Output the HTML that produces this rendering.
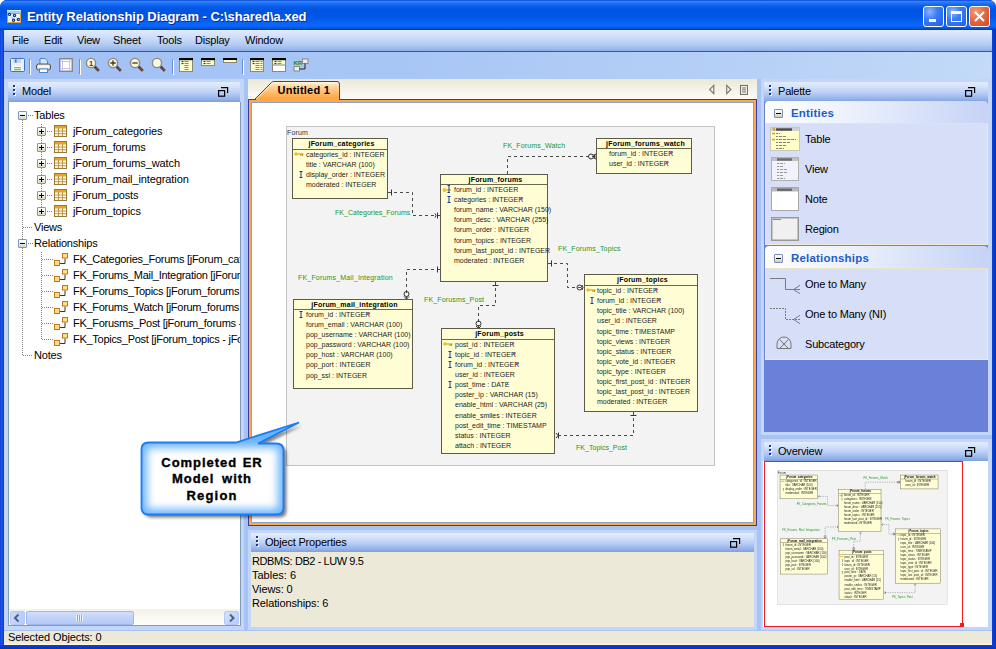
<!DOCTYPE html>
<html><head><meta charset="utf-8">
<style>
*{box-sizing:border-box}
html,body{margin:0;padding:0}
body{width:996px;height:649px;overflow:hidden;position:relative;background:#fff;font-family:"Liberation Sans",sans-serif;font-size:11px;color:#000}
.a{position:absolute}
.t{position:absolute;white-space:nowrap;line-height:13px;letter-spacing:-0.2px}
.hdr{position:absolute;background:linear-gradient(#e3edfd 0,#d3e1fa 25%,#b8cdf4 55%,#93b2ea 85%,#7e9fe0 100%)}
.grip{position:absolute;width:3px;height:11px}
.grip i{position:absolute;left:0;width:2px;height:2px;background:#1c3a8a;box-shadow:1px 1px 0 #fff}
.rst{position:absolute;width:11px;height:10px}
.tb{position:absolute;background:#fffdd3;border:1px solid #5c5b4a}
.tb .h{position:absolute;left:0;right:0;top:0;border-bottom:1px solid #6a6950;font-weight:bold;font-size:7px;text-align:center;white-space:nowrap;color:#000;letter-spacing:0.2px;padding-left:3px}
.tb .r{position:absolute;white-space:nowrap;font-size:7px;line-height:9px;color:#1e1e1e}
.lbl{position:absolute;white-space:nowrap;font-size:7px;line-height:9px;letter-spacing:0.15px}
</style></head><body>

<div class="a" style="left:0;top:0;width:996px;height:649px;background:linear-gradient(90deg,#0a2fc8 0,#1f5cf0 1px,#0b45dc 3px,#0a3fd6 4px);border-radius:7px 7px 0 0"></div>
<div class="a" style="left:992px;top:8px;width:4px;height:641px;background:linear-gradient(90deg,#0a3fd6,#0b3ccf 2px,#0a2ea8 4px)"></div>
<div class="a" style="left:0;top:645px;width:996px;height:4px;background:linear-gradient(#0a3fd6,#0a32b8)"></div>
<div class="a" style="left:0;top:0;width:996px;height:30px;border-radius:7px 7px 0 0;background:linear-gradient(#0840d0 0,#2f84fc 1.5px,#2076f6 3px,#0a5eea 6px,#0054e2 10px,#0056e6 17px,#0862f6 22px,#0a68fd 26px,#0458e8 28px,#0036b0 30px)"></div>
<svg class="a" style="left:7px;top:10px" width="14" height="13" viewBox="0 0 14 13">
<rect x="0" y="0" width="14" height="3" fill="#a8ccec"/><rect x="0" y="0" width="14" height="1" fill="#d8ecfa"/>
<rect x="0.5" y="3.5" width="13" height="9" fill="#eaf4fe" stroke="#d8a040"/>
<g stroke="#4a7ab0" stroke-width="0.9" stroke-dasharray="0.9 0.9"><line x1="3.5" y1="5.5" x2="6" y2="9"/><line x1="8.5" y1="6.5" x2="10.5" y2="8.5"/></g>
<g fill="#fff" stroke="#0a3a80" stroke-width="1.2"><circle cx="2.5" cy="4.4" r="1.1"/><circle cx="7.5" cy="5.5" r="1.1"/><circle cx="6.6" cy="10.2" r="1.1"/><circle cx="11.3" cy="9.5" r="1.1"/></g>
</svg>
<div class="t" style="left:27px;top:9px;font-size:13px;font-weight:bold;color:#fff;line-height:16px;letter-spacing:-0.05px;text-shadow:1px 1px 0 #0b2a96">Entity Relationship Diagram - C:\shared\a.xed</div>
<div class="a" style="left:923px;top:6px;width:21px;height:21px;border:1px solid #fff;border-radius:3px;background:radial-gradient(circle at 30% 25%,#8db4ff 0,#3b7cf6 40%,#1f5ee8 100%)"></div>
<div class="a" style="left:946px;top:6px;width:21px;height:21px;border:1px solid #fff;border-radius:3px;background:radial-gradient(circle at 30% 25%,#8db4ff 0,#3b7cf6 40%,#1f5ee8 100%)"></div>
<div class="a" style="left:969px;top:6px;width:21px;height:21px;border:1px solid #fff;border-radius:3px;background:radial-gradient(circle at 30% 25%,#f39a7a 0,#e66a45 45%,#d2461e 100%)"></div>
<div class="a" style="left:929px;top:19px;width:7px;height:3px;background:#fff"></div>
<div class="a" style="left:951px;top:11px;width:11px;height:11px;border:1px solid #fff;border-top:3px solid #fff"></div>
<svg class="a" style="left:969px;top:6px" width="21" height="21"><g stroke="#fff" stroke-width="2"><line x1="6" y1="6" x2="15" y2="15"/><line x1="15" y1="6" x2="6" y2="15"/></g></svg>
<div class="a" style="left:4px;top:30px;width:988px;height:615px;background:#a6c3f4"></div>
<div class="a" style="left:4px;top:30px;width:988px;height:21px;background:linear-gradient(#e0ebfd 0,#d0e0fb 30%,#b3cbf3 70%,#8eb0e8 100%)"></div>
<div class="a" style="left:4px;top:51px;width:988px;height:1px;background:#3d51ad"></div>
<div class="t" style="left:12px;top:34px">File</div>
<div class="t" style="left:44px;top:34px">Edit</div>
<div class="t" style="left:77px;top:34px">View</div>
<div class="t" style="left:113px;top:34px">Sheet</div>
<div class="t" style="left:157px;top:34px">Tools</div>
<div class="t" style="left:195px;top:34px">Display</div>
<div class="t" style="left:245px;top:34px">Window</div>
<div class="a" style="left:4px;top:52px;width:988px;height:27px;background:linear-gradient(90deg,#a2c0f4 0,#a8c6f5 40%,#b6d0f6 75%,#c3daf8 100%)"></div>
<svg class="a" style="left:10px;top:58px" width="15" height="14" viewBox="0 0 15 14">
<rect x="0.5" y="0.5" width="14" height="13" rx="1" fill="#e9f0fa" stroke="#3f6fc2"/>
<rect x="3" y="1" width="8" height="4" fill="#c8d4e8"/><rect x="5" y="1.5" width="1.5" height="3" fill="#3f6fc2"/>
<rect x="3" y="8" width="9" height="5" fill="#fff"/><rect x="4" y="9" width="7" height="1.3" fill="#7cc040"/><rect x="4" y="11" width="7" height="1.3" fill="#7cc040"/>
</svg>
<div class="a" style="left:29px;top:59px;width:1px;height:15px;background:#6a8fd6"></div><div class="a" style="left:30px;top:60px;width:1px;height:15px;background:#fff"></div>
<svg class="a" style="left:36px;top:58px" width="15" height="15" viewBox="0 0 15 15">
<path d="M4 0.5h5l2.5 2.5v4h-7.5z" fill="#d6e6fa" stroke="#4a86d0"/>
<rect x="0.5" y="6" width="14" height="6" rx="2" fill="#d8d8d8" stroke="#555"/>
<rect x="2" y="7.5" width="11" height="2" fill="#fff"/>
<rect x="3.5" y="11" width="8" height="3.5" fill="#fff" stroke="#4a86d0"/>
</svg>
<svg class="a" style="left:59px;top:58px" width="14" height="14" viewBox="0 0 14 14">
<rect x="0.75" y="0.75" width="12.5" height="12.5" fill="#fff" stroke="#888" stroke-width="1.5"/>
<g stroke="#c8c4f0" stroke-width="1"><line x1="3.5" y1="1" x2="3.5" y2="13"/><line x1="10.5" y1="1" x2="10.5" y2="13"/><line x1="1" y1="3.5" x2="13" y2="3.5"/><line x1="1" y1="10.5" x2="13" y2="10.5"/></g>
</svg>
<div class="a" style="left:79px;top:59px;width:1px;height:15px;background:#6a8fd6"></div><div class="a" style="left:80px;top:60px;width:1px;height:15px;background:#fff"></div>
<svg class="a" style="left:85px;top:57px" width="16" height="16" viewBox="0 0 16 16">
<line x1="9.5" y1="9.5" x2="13.8" y2="13.8" stroke="#2a2a40" stroke-width="2.6"/>
<line x1="9.5" y1="9.5" x2="13.8" y2="13.8" stroke="#b85a30" stroke-width="1.6" stroke-dasharray="1.1 0.6"/>
<circle cx="6" cy="6" r="4.6" fill="#faf6e2" stroke="#8c8a78" stroke-width="1.4"/>
<text x="6" y="8.6" font-size="7.5" font-family="Liberation Sans" font-weight="bold" text-anchor="middle" fill="#3c3a20">1</text>
</svg>
<svg class="a" style="left:107px;top:57px" width="16" height="16" viewBox="0 0 16 16">
<line x1="9.5" y1="9.5" x2="13.8" y2="13.8" stroke="#2a2a40" stroke-width="2.6"/>
<line x1="9.5" y1="9.5" x2="13.8" y2="13.8" stroke="#b85a30" stroke-width="1.6" stroke-dasharray="1.1 0.6"/>
<circle cx="6" cy="6" r="4.6" fill="#faf6e2" stroke="#8c8a78" stroke-width="1.4"/>
<path d="M3.3 6h5.4M6 3.3v5.4" stroke="#3c3a20" stroke-width="1.3"/>
</svg>
<svg class="a" style="left:129px;top:57px" width="16" height="16" viewBox="0 0 16 16">
<line x1="9.5" y1="9.5" x2="13.8" y2="13.8" stroke="#2a2a40" stroke-width="2.6"/>
<line x1="9.5" y1="9.5" x2="13.8" y2="13.8" stroke="#b85a30" stroke-width="1.6" stroke-dasharray="1.1 0.6"/>
<circle cx="6" cy="6" r="4.6" fill="#faf6e2" stroke="#8c8a78" stroke-width="1.4"/>
<path d="M3.3 6h5.4" stroke="#3c3a20" stroke-width="1.3"/>
</svg>
<svg class="a" style="left:151px;top:57px" width="16" height="16" viewBox="0 0 16 16">
<line x1="9.5" y1="9.5" x2="13.8" y2="13.8" stroke="#2a2a40" stroke-width="2.6"/>
<line x1="9.5" y1="9.5" x2="13.8" y2="13.8" stroke="#b85a30" stroke-width="1.6" stroke-dasharray="1.1 0.6"/>
<circle cx="6" cy="6" r="4.6" fill="#faf6e2" stroke="#8c8a78" stroke-width="1.4"/>

</svg>
<div class="a" style="left:172px;top:59px;width:1px;height:15px;background:#6a8fd6"></div><div class="a" style="left:173px;top:60px;width:1px;height:15px;background:#fff"></div>
<svg class="a" style="left:179px;top:58px" width="14" height="14" viewBox="0 0 14 14"><rect x="0.5" y="0.5" width="13" height="13" fill="#fffdd0" stroke="#8a8878"/><rect x="0" y="0" width="14" height="2.2" fill="#000"/><rect x="2.5" y="3.0" width="2" height="1.1" fill="#1a3a8a"/><rect x="5.5" y="3.0" width="4" height="1" fill="#8a8a80"/><rect x="2.5" y="5.0" width="2" height="1.1" fill="#1a3a8a"/><rect x="5.5" y="5.0" width="4" height="1" fill="#8a8a80"/><rect x="5.5" y="7.0" width="4" height="1" fill="#8a8a80"/><rect x="5.5" y="9.0" width="4" height="1" fill="#8a8a80"/><rect x="5.5" y="11.0" width="4" height="1" fill="#8a8a80"/></svg>
<svg class="a" style="left:201px;top:58px" width="14" height="8" viewBox="0 0 14 8"><rect x="0.5" y="0.5" width="13" height="7" fill="#fffdd0" stroke="#8a8878"/><rect x="0" y="0" width="14" height="2.2" fill="#000"/><rect x="2.5" y="3.0" width="2" height="1.1" fill="#1a3a8a"/><rect x="5.5" y="3.0" width="4" height="1" fill="#8a8a80"/><rect x="2.5" y="5.0" width="2" height="1.1" fill="#1a3a8a"/><rect x="5.5" y="5.0" width="4" height="1" fill="#8a8a80"/></svg>
<svg class="a" style="left:223px;top:58px" width="14" height="5"><rect x="0.5" y="0.5" width="13" height="4" fill="#fffdd0" stroke="#8a8878"/><rect x="0" y="0" width="14" height="2" fill="#000"/></svg>
<div class="a" style="left:242px;top:59px;width:1px;height:15px;background:#6a8fd6"></div><div class="a" style="left:243px;top:60px;width:1px;height:15px;background:#fff"></div>
<svg class="a" style="left:250px;top:58px" width="14" height="14" viewBox="0 0 14 14"><rect x="0.5" y="0.5" width="13" height="13" fill="#fffdd0" stroke="#8a8878"/><rect x="0" y="0" width="14" height="2.2" fill="#000"/><rect x="2.5" y="3.0" width="2" height="1.1" fill="#1a3a8a"/><rect x="5.5" y="3.0" width="4" height="1" fill="#8a8a80"/><rect x="10.5" y="3.0" width="2" height="1" fill="#8a8a80"/><rect x="2.5" y="5.0" width="2" height="1.1" fill="#1a3a8a"/><rect x="5.5" y="5.0" width="4" height="1" fill="#8a8a80"/><rect x="10.5" y="5.0" width="2" height="1" fill="#8a8a80"/><rect x="5.5" y="7.0" width="4" height="1" fill="#8a8a80"/><rect x="10.5" y="7.0" width="2" height="1" fill="#8a8a80"/><rect x="5.5" y="9.0" width="4" height="1" fill="#8a8a80"/><rect x="10.5" y="9.0" width="2" height="1" fill="#8a8a80"/><rect x="5.5" y="11.0" width="4" height="1" fill="#8a8a80"/><rect x="10.5" y="11.0" width="2" height="1" fill="#8a8a80"/></svg>
<svg class="a" style="left:272px;top:58px" width="14" height="14" viewBox="0 0 14 14"><rect x="0.5" y="0.5" width="13" height="13" fill="#fffdd0" stroke="#8a8878"/><rect x="1" y="7" width="12" height="6" fill="#fff"/><line x1="1" y1="7" x2="13" y2="7" stroke="#8a8878"/><rect x="0" y="0" width="14" height="2.2" fill="#000"/><rect x="2.5" y="3.0" width="2" height="1.1" fill="#1a3a8a"/><rect x="5.5" y="3.0" width="4" height="1" fill="#8a8a80"/><rect x="2.5" y="5.0" width="2" height="1.1" fill="#1a3a8a"/><rect x="5.5" y="5.0" width="4" height="1" fill="#8a8a80"/></svg>
<svg class="a" style="left:293px;top:58px" width="16" height="14" viewBox="0 0 16 14">
<text x="0.5" y="7.2" font-size="6" font-weight="bold" font-family="Liberation Sans" fill="#188818">KR</text>
<rect x="9.5" y="1" width="5.5" height="4.5" fill="#eee" stroke="#888"/>
<rect x="1" y="8.5" width="5.5" height="4.5" fill="#eee" stroke="#888"/>
<path d="M6.5 11h5.5v-5.5" fill="none" stroke="#222" stroke-width="1"/>
</svg>
<div class="a" style="left:4px;top:79px;width:240px;height:551px;background:#c3d6f8"></div>
<div class="hdr" style="left:8px;top:82px;width:232px;height:20px"></div>
<div class="grip" style="left:13px;top:85px"><i style="top:0"></i><i style="top:4px"></i><i style="top:8px"></i></div>
<div class="t" style="left:22px;top:85px">Model</div>
<svg class="a" style="left:218px;top:87px" width="11" height="10" viewBox="0 0 11 10"><g fill="none" stroke="#000"><path d="M3 0.6H9.6V6" stroke-width="1.2"/><rect x="0.6" y="3.6" width="6" height="5.6" stroke-width="1.2"/></g></svg>
<div class="a" style="left:8px;top:102px;width:233px;height:524px;background:#fff;border-left:1px solid #7f9db9;border-right:1px solid #7f9db9;border-bottom:1px solid #7f9db9"></div>
<div class="a" style="left:0;top:0;width:240px;height:609px;overflow:hidden">
<div class="a" style="left:22px;top:120px;width:1px;height:236px;background:repeating-linear-gradient(#808080 0 1px,transparent 1px 2px)"></div>
<div class="a" style="left:41px;top:124px;width:1px;height:88px;background:repeating-linear-gradient(#808080 0 1px,transparent 1px 2px)"></div>
<div class="a" style="left:41px;top:252px;width:1px;height:88px;background:repeating-linear-gradient(#808080 0 1px,transparent 1px 2px)"></div>
<div class="a" style="left:18px;top:111px;width:9px;height:9px;border:1px solid #7a99c1;border-radius:1px;background:linear-gradient(#fff,#f0eee4 50%,#d8d4c0)"></div>
<div class="a" style="left:20px;top:115px;width:5px;height:1px;background:#000"></div>
<div class="a" style="left:28px;top:115px;width:5px;height:1px;background:repeating-linear-gradient(90deg,#808080 0 1px,transparent 1px 2px)"></div>
<div class="t" style="left:34px;top:109px">Tables</div>
<div class="a" style="left:37px;top:127px;width:9px;height:9px;border:1px solid #7a99c1;border-radius:1px;background:linear-gradient(#fff,#f0eee4 50%,#d8d4c0)"></div>
<div class="a" style="left:39px;top:131px;width:5px;height:1px;background:#000"></div>
<div class="a" style="left:41px;top:129px;width:1px;height:5px;background:#000"></div>
<div class="a" style="left:47px;top:131px;width:6px;height:1px;background:repeating-linear-gradient(90deg,#808080 0 1px,transparent 1px 2px)"></div>
<svg class="a" style="left:54px;top:125px" width="13" height="12" viewBox="0 0 13 12">
<rect x="0.5" y="0.5" width="12" height="11" fill="#f0f8ff" stroke="#9a7a30"/>
<rect x="1" y="1" width="11" height="2.5" fill="#f0a020"/>
<g stroke="#b89a50" stroke-width="1"><line x1="4.5" y1="3" x2="4.5" y2="11"/><line x1="8.5" y1="3" x2="8.5" y2="11"/><line x1="1" y1="6" x2="12" y2="6"/><line x1="1" y1="8.7" x2="12" y2="8.7"/></g>
</svg>
<div class="t" style="left:73px;top:125px;letter-spacing:-0.1px">jForum_categories</div>
<div class="a" style="left:37px;top:143px;width:9px;height:9px;border:1px solid #7a99c1;border-radius:1px;background:linear-gradient(#fff,#f0eee4 50%,#d8d4c0)"></div>
<div class="a" style="left:39px;top:147px;width:5px;height:1px;background:#000"></div>
<div class="a" style="left:41px;top:145px;width:1px;height:5px;background:#000"></div>
<div class="a" style="left:47px;top:147px;width:6px;height:1px;background:repeating-linear-gradient(90deg,#808080 0 1px,transparent 1px 2px)"></div>
<svg class="a" style="left:54px;top:141px" width="13" height="12" viewBox="0 0 13 12">
<rect x="0.5" y="0.5" width="12" height="11" fill="#f0f8ff" stroke="#9a7a30"/>
<rect x="1" y="1" width="11" height="2.5" fill="#f0a020"/>
<g stroke="#b89a50" stroke-width="1"><line x1="4.5" y1="3" x2="4.5" y2="11"/><line x1="8.5" y1="3" x2="8.5" y2="11"/><line x1="1" y1="6" x2="12" y2="6"/><line x1="1" y1="8.7" x2="12" y2="8.7"/></g>
</svg>
<div class="t" style="left:73px;top:141px;letter-spacing:-0.1px">jForum_forums</div>
<div class="a" style="left:37px;top:159px;width:9px;height:9px;border:1px solid #7a99c1;border-radius:1px;background:linear-gradient(#fff,#f0eee4 50%,#d8d4c0)"></div>
<div class="a" style="left:39px;top:163px;width:5px;height:1px;background:#000"></div>
<div class="a" style="left:41px;top:161px;width:1px;height:5px;background:#000"></div>
<div class="a" style="left:47px;top:163px;width:6px;height:1px;background:repeating-linear-gradient(90deg,#808080 0 1px,transparent 1px 2px)"></div>
<svg class="a" style="left:54px;top:157px" width="13" height="12" viewBox="0 0 13 12">
<rect x="0.5" y="0.5" width="12" height="11" fill="#f0f8ff" stroke="#9a7a30"/>
<rect x="1" y="1" width="11" height="2.5" fill="#f0a020"/>
<g stroke="#b89a50" stroke-width="1"><line x1="4.5" y1="3" x2="4.5" y2="11"/><line x1="8.5" y1="3" x2="8.5" y2="11"/><line x1="1" y1="6" x2="12" y2="6"/><line x1="1" y1="8.7" x2="12" y2="8.7"/></g>
</svg>
<div class="t" style="left:73px;top:157px;letter-spacing:-0.1px">jForum_forums_watch</div>
<div class="a" style="left:37px;top:175px;width:9px;height:9px;border:1px solid #7a99c1;border-radius:1px;background:linear-gradient(#fff,#f0eee4 50%,#d8d4c0)"></div>
<div class="a" style="left:39px;top:179px;width:5px;height:1px;background:#000"></div>
<div class="a" style="left:41px;top:177px;width:1px;height:5px;background:#000"></div>
<div class="a" style="left:47px;top:179px;width:6px;height:1px;background:repeating-linear-gradient(90deg,#808080 0 1px,transparent 1px 2px)"></div>
<svg class="a" style="left:54px;top:173px" width="13" height="12" viewBox="0 0 13 12">
<rect x="0.5" y="0.5" width="12" height="11" fill="#f0f8ff" stroke="#9a7a30"/>
<rect x="1" y="1" width="11" height="2.5" fill="#f0a020"/>
<g stroke="#b89a50" stroke-width="1"><line x1="4.5" y1="3" x2="4.5" y2="11"/><line x1="8.5" y1="3" x2="8.5" y2="11"/><line x1="1" y1="6" x2="12" y2="6"/><line x1="1" y1="8.7" x2="12" y2="8.7"/></g>
</svg>
<div class="t" style="left:73px;top:173px;letter-spacing:-0.1px">jForum_mail_integration</div>
<div class="a" style="left:37px;top:191px;width:9px;height:9px;border:1px solid #7a99c1;border-radius:1px;background:linear-gradient(#fff,#f0eee4 50%,#d8d4c0)"></div>
<div class="a" style="left:39px;top:195px;width:5px;height:1px;background:#000"></div>
<div class="a" style="left:41px;top:193px;width:1px;height:5px;background:#000"></div>
<div class="a" style="left:47px;top:195px;width:6px;height:1px;background:repeating-linear-gradient(90deg,#808080 0 1px,transparent 1px 2px)"></div>
<svg class="a" style="left:54px;top:189px" width="13" height="12" viewBox="0 0 13 12">
<rect x="0.5" y="0.5" width="12" height="11" fill="#f0f8ff" stroke="#9a7a30"/>
<rect x="1" y="1" width="11" height="2.5" fill="#f0a020"/>
<g stroke="#b89a50" stroke-width="1"><line x1="4.5" y1="3" x2="4.5" y2="11"/><line x1="8.5" y1="3" x2="8.5" y2="11"/><line x1="1" y1="6" x2="12" y2="6"/><line x1="1" y1="8.7" x2="12" y2="8.7"/></g>
</svg>
<div class="t" style="left:73px;top:189px;letter-spacing:-0.1px">jForum_posts</div>
<div class="a" style="left:37px;top:207px;width:9px;height:9px;border:1px solid #7a99c1;border-radius:1px;background:linear-gradient(#fff,#f0eee4 50%,#d8d4c0)"></div>
<div class="a" style="left:39px;top:211px;width:5px;height:1px;background:#000"></div>
<div class="a" style="left:41px;top:209px;width:1px;height:5px;background:#000"></div>
<div class="a" style="left:47px;top:211px;width:6px;height:1px;background:repeating-linear-gradient(90deg,#808080 0 1px,transparent 1px 2px)"></div>
<svg class="a" style="left:54px;top:205px" width="13" height="12" viewBox="0 0 13 12">
<rect x="0.5" y="0.5" width="12" height="11" fill="#f0f8ff" stroke="#9a7a30"/>
<rect x="1" y="1" width="11" height="2.5" fill="#f0a020"/>
<g stroke="#b89a50" stroke-width="1"><line x1="4.5" y1="3" x2="4.5" y2="11"/><line x1="8.5" y1="3" x2="8.5" y2="11"/><line x1="1" y1="6" x2="12" y2="6"/><line x1="1" y1="8.7" x2="12" y2="8.7"/></g>
</svg>
<div class="t" style="left:73px;top:205px;letter-spacing:-0.1px">jForum_topics</div>
<div class="a" style="left:23px;top:227px;width:10px;height:1px;background:repeating-linear-gradient(90deg,#808080 0 1px,transparent 1px 2px)"></div>
<div class="t" style="left:34px;top:221px">Views</div>
<div class="a" style="left:18px;top:239px;width:9px;height:9px;border:1px solid #7a99c1;border-radius:1px;background:linear-gradient(#fff,#f0eee4 50%,#d8d4c0)"></div>
<div class="a" style="left:20px;top:243px;width:5px;height:1px;background:#000"></div>
<div class="a" style="left:28px;top:243px;width:5px;height:1px;background:repeating-linear-gradient(90deg,#808080 0 1px,transparent 1px 2px)"></div>
<div class="t" style="left:34px;top:237px">Relationships</div>
<div class="a" style="left:42px;top:259px;width:11px;height:1px;background:repeating-linear-gradient(90deg,#808080 0 1px,transparent 1px 2px)"></div>
<svg class="a" style="left:54px;top:253px" width="14" height="14" viewBox="0 0 14 14">
<path d="M6 10.5h5v-5" fill="none" stroke="#333" stroke-width="1"/>
<rect x="8.5" y="0.5" width="5" height="4.5" fill="#ffe080" stroke="#c07820"/>
<rect x="0.5" y="7.5" width="5" height="5" fill="#ffe080" stroke="#c07820"/>
</svg>
<div class="t" style="left:73px;top:253px;letter-spacing:-0.28px">FK_Categories_Forums [jForum_categories - jForum_forums]</div>
<div class="a" style="left:42px;top:275px;width:11px;height:1px;background:repeating-linear-gradient(90deg,#808080 0 1px,transparent 1px 2px)"></div>
<svg class="a" style="left:54px;top:269px" width="14" height="14" viewBox="0 0 14 14">
<path d="M6 10.5h5v-5" fill="none" stroke="#333" stroke-width="1"/>
<rect x="8.5" y="0.5" width="5" height="4.5" fill="#ffe080" stroke="#c07820"/>
<rect x="0.5" y="7.5" width="5" height="5" fill="#ffe080" stroke="#c07820"/>
</svg>
<div class="t" style="left:73px;top:269px;letter-spacing:-0.28px">FK_Forums_Mail_Integration [jForum_forums - jForum_mail_integration]</div>
<div class="a" style="left:42px;top:291px;width:11px;height:1px;background:repeating-linear-gradient(90deg,#808080 0 1px,transparent 1px 2px)"></div>
<svg class="a" style="left:54px;top:285px" width="14" height="14" viewBox="0 0 14 14">
<path d="M6 10.5h5v-5" fill="none" stroke="#333" stroke-width="1"/>
<rect x="8.5" y="0.5" width="5" height="4.5" fill="#ffe080" stroke="#c07820"/>
<rect x="0.5" y="7.5" width="5" height="5" fill="#ffe080" stroke="#c07820"/>
</svg>
<div class="t" style="left:73px;top:285px;letter-spacing:-0.28px">FK_Forums_Topics [jForum_forums - jForum_topics]</div>
<div class="a" style="left:42px;top:307px;width:11px;height:1px;background:repeating-linear-gradient(90deg,#808080 0 1px,transparent 1px 2px)"></div>
<svg class="a" style="left:54px;top:301px" width="14" height="14" viewBox="0 0 14 14">
<path d="M6 10.5h5v-5" fill="none" stroke="#333" stroke-width="1"/>
<rect x="8.5" y="0.5" width="5" height="4.5" fill="#ffe080" stroke="#c07820"/>
<rect x="0.5" y="7.5" width="5" height="5" fill="#ffe080" stroke="#c07820"/>
</svg>
<div class="t" style="left:73px;top:301px;letter-spacing:-0.28px">FK_Forums_Watch [jForum_forums - jForum_forums_watch]</div>
<div class="a" style="left:42px;top:323px;width:11px;height:1px;background:repeating-linear-gradient(90deg,#808080 0 1px,transparent 1px 2px)"></div>
<svg class="a" style="left:54px;top:317px" width="14" height="14" viewBox="0 0 14 14">
<path d="M6 10.5h5v-5" fill="none" stroke="#333" stroke-width="1"/>
<rect x="8.5" y="0.5" width="5" height="4.5" fill="#ffe080" stroke="#c07820"/>
<rect x="0.5" y="7.5" width="5" height="5" fill="#ffe080" stroke="#c07820"/>
</svg>
<div class="t" style="left:73px;top:317px;letter-spacing:-0.28px">FK_Forusms_Post [jForum_forums - jForum_posts]</div>
<div class="a" style="left:42px;top:339px;width:11px;height:1px;background:repeating-linear-gradient(90deg,#808080 0 1px,transparent 1px 2px)"></div>
<svg class="a" style="left:54px;top:333px" width="14" height="14" viewBox="0 0 14 14">
<path d="M6 10.5h5v-5" fill="none" stroke="#333" stroke-width="1"/>
<rect x="8.5" y="0.5" width="5" height="4.5" fill="#ffe080" stroke="#c07820"/>
<rect x="0.5" y="7.5" width="5" height="5" fill="#ffe080" stroke="#c07820"/>
</svg>
<div class="t" style="left:73px;top:333px;letter-spacing:-0.28px">FK_Topics_Post [jForum_topics - jForum_posts]</div>
<div class="a" style="left:23px;top:355px;width:10px;height:1px;background:repeating-linear-gradient(90deg,#808080 0 1px,transparent 1px 2px)"></div>
<div class="t" style="left:34px;top:349px">Notes</div>
</div>
<div class="a" style="left:9px;top:609px;width:231px;height:16px;background:linear-gradient(#f3f1e8,#fefefb)"></div>
<div class="a" style="left:10px;top:611px;width:15px;height:14px;border:1px solid #b4c8f6;border-radius:2px;background:linear-gradient(90deg,#c6d7fb,#b6cbf8)"></div>
<svg class="a" style="left:13px;top:613px" width="9" height="10"><path d="M5.5 1.5L2 5l3.5 3.5" fill="none" stroke="#4d6185" stroke-width="2"/></svg>
<div class="a" style="left:224px;top:611px;width:15px;height:14px;border:1px solid #b4c8f6;border-radius:2px;background:linear-gradient(135deg,#d6e2fc,#b6cbf8)"></div>
<svg class="a" style="left:227px;top:613px" width="9" height="10"><path d="M3 1.5L6.5 5 3 8.5" fill="none" stroke="#4d6185" stroke-width="2"/></svg>
<div class="a" style="left:26px;top:611px;width:108px;height:14px;border:1px solid #9db7ef;border-radius:2px;background:linear-gradient(#d2defa,#c0d2f8 50%,#b4c9f6)"></div>
<div class="a" style="left:76px;top:615px;width:7px;height:6px;background:repeating-linear-gradient(90deg,#eef3fe 0 1px,#8ca5d8 1px 2px)"></div>
<div class="a" style="left:248px;top:79px;width:509px;height:20px;background:linear-gradient(#ebe8d6,#f6f4ea 60%,#fdfcf8)"></div>
<svg class="a" style="left:248px;top:80px" width="100" height="20" viewBox="0 0 100 20">
<defs><linearGradient id="tabg" x1="0" y1="0" x2="0" y2="1"><stop offset="0" stop-color="#fff0dc"/><stop offset="0.35" stop-color="#ffcf90"/><stop offset="1" stop-color="#ffa040"/></linearGradient></defs>
<path d="M6.5 19.5L23.5 2.5Q24.5 1.5 26 1.5H89Q91.5 1.5 91.5 4V19.5" fill="url(#tabg)" stroke="#3c3ea8" stroke-width="1"/>
<path d="M8.5 19L24.5 3H89.5" fill="none" stroke="#fff" stroke-width="1" opacity="0.7"/>
<path d="M0 19.5H6.5M91.5 19.5H100" stroke="#3c3ea8" stroke-width="1"/>
</svg>
<div class="t" style="left:277.5px;top:83.7px;font-weight:bold;letter-spacing:0.25px">Untitled 1</div>
<svg class="a" style="left:708px;top:84px" width="40" height="11" viewBox="0 0 40 11"><g fill="none" stroke="#77756a" stroke-width="1.1"><path d="M5.8 1.3L1.6 5.5L5.8 9.7z"/><path d="M18.7 1.3L22.9 5.5L18.7 9.7z"/><rect x="32.5" y="1.5" width="7" height="9"/></g><g fill="#77756a"><rect x="34" y="3.5" width="4" height="1"/><rect x="34" y="5.5" width="4" height="1"/><rect x="34" y="7.5" width="4" height="1"/></g></svg>
<div class="a" style="left:248px;top:99px;width:509px;height:427px;background:#ffa848;border:1px solid #3a3ca6;border-top:none"></div>
<div class="a" style="left:339px;top:99px;width:418px;height:1px;background:#3a3ca6"></div>
<div class="a" style="left:248px;top:99px;width:8px;height:1px;background:#3a3ca6"></div>
<div class="a" style="left:251px;top:102px;width:503px;height:421px;background:#fff;border:1px solid #8aa4c8"></div>
<div class="a" style="left:252px;top:103px;width:501px;height:419px;overflow:hidden"><div class="a" style="left:34px;top:23px;width:429px;height:340px;background:#f3f3f3;border:1px solid #c4c4c4"></div><svg class="a" style="left:0;top:0" width="501" height="419" viewBox="252 103 501 419"><path d="M388 192.5 L412.5 192.5 L412.5 215.5 L440 215.5" fill="none" stroke="#4a4a4a" stroke-width="1" stroke-dasharray="3 3"/><path d="M507.5 174 L507.5 156.5 L596 156.5" fill="none" stroke="#4a4a4a" stroke-width="1" stroke-dasharray="3 3"/><path d="M548 263.5 L567.5 263.5 L567.5 287.5 L584 287.5" fill="none" stroke="#4a4a4a" stroke-width="1" stroke-dasharray="3 3"/><path d="M440 269.5 L406.5 269.5 L406.5 299" fill="none" stroke="#4a4a4a" stroke-width="1" stroke-dasharray="3 3"/><path d="M495.5 282 L495.5 305.5 L478.5 305.5 L478.5 328" fill="none" stroke="#4a4a4a" stroke-width="1" stroke-dasharray="3 3"/><path d="M633.5 412 L633.5 435.5 L555 435.5" fill="none" stroke="#4a4a4a" stroke-width="1" stroke-dasharray="3 3"/><g stroke="#333" stroke-width="1" fill="none"><path d="M391.5 189.5v6"/><path d="M437.5 212.5v6M435 213.5q2 2 0 4"/><path d="M504.5 177.5h6"/><circle cx="591" cy="156.5" r="2.5"/><path d="M594 154q2 2.5 0 5M596 153.5l-2 3 2 3"/><path d="M551.5 260.5v6"/><circle cx="579.5" cy="287.5" r="2.5"/><path d="M582 285q2 2.5 0 5"/><path d="M437.5 266.5v6"/><circle cx="406.5" cy="294" r="2.5"/><path d="M404 296.5l2.5 2.5 2.5-2.5"/><path d="M492.5 285.5h6"/><circle cx="478.5" cy="323.5" r="2.5"/><path d="M476 326l2.5 2.5 2.5-2.5"/><path d="M630.5 415.5h6"/><path d="M558.5 432.5v6M556 433l2 2.5-2 2.5"/></g></svg><div class="lbl" style="left:35px;top:24.80000000000001px;color:#333;letter-spacing:0.15px">Forum</div><div class="lbl" style="left:83px;top:104.5px;color:#1f961f;letter-spacing:0.05px">FK_Categories_Forums</div><div class="lbl" style="left:251px;top:38.0px;color:#1f961f;letter-spacing:0.15px">FK_Forums_Watch</div><div class="lbl" style="left:306px;top:140.9px;color:#1f961f;letter-spacing:0.15px">FK_Forums_Topics</div><div class="lbl" style="left:46px;top:170.2px;color:#1f961f;letter-spacing:0.18px">FK_Forums_Mail_Integration</div><div class="lbl" style="left:172px;top:191.89999999999998px;color:#1f961f;letter-spacing:0.15px">FK_Forusms_Post</div><div class="lbl" style="left:324px;top:339.5px;color:#1f961f;letter-spacing:0.03px">FK_Topics_Post</div><div class="tb" style="left:40px;top:35px;width:96px;height:61px"><div class="h" style="height:11px;line-height:10px">jForum_categories</div><div class="r" style="left:13px;top:11px">categories_id : INTEGER</div><div class="a" style="left:1px;top:12.0px;line-height:0"><svg width="10" height="6" viewBox="0 0 10 6"><circle cx="2" cy="3" r="1.8" fill="#f0c020"/><path d="M3.5 3H9.5M7 3v2M8.5 3v2" stroke="#c89000" stroke-width="1"/></svg></div><div class="r" style="left:13px;top:21px">title : VARCHAR (100)</div><div class="r" style="left:13px;top:31px">display_order : INTEGER</div><div class="a" style="left:6px;top:32.2px;line-height:0"><svg width="4" height="7" viewBox="0 0 4 7"><path d="M0.5 0.5h3M2 0.5v6M0.5 6.5h3" stroke="#1a3a9a" stroke-width="1" fill="none"/></svg></div><div class="r" style="left:13px;top:41px">moderated : INTEGER</div></div><div class="tb" style="left:188px;top:71px;width:108px;height:108px"><div class="h" style="height:10px;line-height:9px">jForum_forums</div><div class="r" style="left:13px;top:10px">forum_id : INTEGER</div><div class="a" style="left:1px;top:10.1px;line-height:0"><svg width="10" height="8" viewBox="0 0 10 8"><circle cx="2.5" cy="5" r="2" fill="#f0c020"/><path d="M4.5 5H9" stroke="#c89000" stroke-width="1"/><path d="M5.5 0.5h2.5M7 0.5v7M5.5 7.5H8" stroke="#1a3a9a" stroke-width="1"/></svg></div><div class="r" style="left:13px;top:20px">categories : INTEGE<span style="position:relative">R<i style="position:absolute;right:1.2px;top:2px;width:1.6px;height:1.6px;background:#c040c0"></i></span></div><div class="a" style="left:6px;top:21.2px;line-height:0"><svg width="4" height="7" viewBox="0 0 4 7"><path d="M0.5 0.5h3M2 0.5v6M0.5 6.5h3" stroke="#1a3a9a" stroke-width="1" fill="none"/></svg></div><div class="r" style="left:13px;top:30px">forum_name : VARCHAR (150)</div><div class="r" style="left:13px;top:40px">forum_desc : VARCHAR (255)</div><div class="r" style="left:13px;top:50px">forum_order : INTEGER</div><div class="r" style="left:13px;top:61px">forum_topics : INTEGER</div><div class="r" style="left:13px;top:71px">forum_last_post_id : INTEGER</div><div class="r" style="left:13px;top:81px">moderated : INTEGER</div></div><div class="tb" style="left:344px;top:35px;width:96px;height:36px"><div class="h" style="height:10px;line-height:9px">jForum_forums_watch</div><div class="r" style="left:12px;top:10px">forum_id : INTEGE<span style="position:relative">R<i style="position:absolute;right:1.2px;top:2px;width:1.6px;height:1.6px;background:#c040c0"></i></span></div><div class="r" style="left:12px;top:20px">user_id : INTEGE<span style="position:relative">R<i style="position:absolute;right:1.2px;top:2px;width:1.6px;height:1.6px;background:#c040c0"></i></span></div></div><div class="tb" style="left:332px;top:171px;width:114px;height:138px"><div class="h" style="height:11px;line-height:10px">jForum_topics</div><div class="r" style="left:12px;top:11px">topic_id : INTEGE<span style="position:relative">R<i style="position:absolute;right:1.2px;top:2px;width:1.6px;height:1.6px;background:#c040c0"></i></span></div><div class="a" style="left:1px;top:12.1px;line-height:0"><svg width="10" height="6" viewBox="0 0 10 6"><circle cx="2" cy="3" r="1.8" fill="#f0c020"/><path d="M3.5 3H9.5M7 3v2M8.5 3v2" stroke="#c89000" stroke-width="1"/></svg></div><div class="r" style="left:12px;top:21px">forum_id : INTEGE<span style="position:relative">R<i style="position:absolute;right:1.2px;top:2px;width:1.6px;height:1.6px;background:#c040c0"></i></span></div><div class="a" style="left:5px;top:22.2px;line-height:0"><svg width="4" height="7" viewBox="0 0 4 7"><path d="M0.5 0.5h3M2 0.5v6M0.5 6.5h3" stroke="#1a3a9a" stroke-width="1" fill="none"/></svg></div><div class="r" style="left:12px;top:31px">topic_title : VARCHAR (100)</div><div class="r" style="left:12px;top:41px">user_id : INTEGER</div><div class="r" style="left:12px;top:52px">topic_time : TIMESTAMP</div><div class="r" style="left:12px;top:62px">topic_views : INTEGER</div><div class="r" style="left:12px;top:72px">topic_status : INTEGER</div><div class="r" style="left:12px;top:82px">topic_vote_id : INTEGER</div><div class="r" style="left:12px;top:92px">topic_type : INTEGER</div><div class="r" style="left:12px;top:102px">topic_first_post_id : INTEGER</div><div class="r" style="left:12px;top:112px">topic_last_post_id : INTEGER</div><div class="r" style="left:12px;top:122px">moderated : INTEGER</div></div><div class="tb" style="left:41px;top:196px;width:120px;height:90px"><div class="h" style="height:10px;line-height:9px">jForum_mail_integration</div><div class="r" style="left:12px;top:10px">forum_id : INTEGE<span style="position:relative">R<i style="position:absolute;right:1.2px;top:2px;width:1.6px;height:1.6px;background:#c040c0"></i></span></div><div class="a" style="left:5px;top:11.0px;line-height:0"><svg width="4" height="7" viewBox="0 0 4 7"><path d="M0.5 0.5h3M2 0.5v6M0.5 6.5h3" stroke="#1a3a9a" stroke-width="1" fill="none"/></svg></div><div class="r" style="left:12px;top:20px">forum_email : VARCHAR (100)</div><div class="r" style="left:12px;top:30px">pop_username : VARCHAR (100)</div><div class="r" style="left:12px;top:40px">pop_password : VARCHAR (100)</div><div class="r" style="left:12px;top:50px">pop_host : VARCHAR (100)</div><div class="r" style="left:12px;top:60px">pop_port : INTEGER</div><div class="r" style="left:12px;top:71px">pop_ssl : INTEGER</div></div><div class="tb" style="left:189px;top:225px;width:114px;height:126px"><div class="h" style="height:11px;line-height:10px">jForum_posts</div><div class="r" style="left:13px;top:11px">post_id : INTEGE<span style="position:relative">R<i style="position:absolute;right:1.2px;top:2px;width:1.6px;height:1.6px;background:#c040c0"></i></span></div><div class="a" style="left:1px;top:11.8px;line-height:0"><svg width="10" height="6" viewBox="0 0 10 6"><circle cx="2" cy="3" r="1.8" fill="#f0c020"/><path d="M3.5 3H9.5M7 3v2M8.5 3v2" stroke="#c89000" stroke-width="1"/></svg></div><div class="r" style="left:13px;top:21px">topic_id : INTEGE<span style="position:relative">R<i style="position:absolute;right:1.2px;top:2px;width:1.6px;height:1.6px;background:#c040c0"></i></span></div><div class="a" style="left:6px;top:21.9px;line-height:0"><svg width="4" height="7" viewBox="0 0 4 7"><path d="M0.5 0.5h3M2 0.5v6M0.5 6.5h3" stroke="#1a3a9a" stroke-width="1" fill="none"/></svg></div><div class="r" style="left:13px;top:31px">forum_id : INTEGE<span style="position:relative">R<i style="position:absolute;right:1.2px;top:2px;width:1.6px;height:1.6px;background:#c040c0"></i></span></div><div class="a" style="left:6px;top:32.0px;line-height:0"><svg width="4" height="7" viewBox="0 0 4 7"><path d="M0.5 0.5h3M2 0.5v6M0.5 6.5h3" stroke="#1a3a9a" stroke-width="1" fill="none"/></svg></div><div class="r" style="left:13px;top:41px">user_id : INTEGER</div><div class="r" style="left:13px;top:51px">post_time : DAT<span style="position:relative">E<i style="position:absolute;right:1.2px;top:2px;width:1.6px;height:1.6px;background:#c040c0"></i></span></div><div class="a" style="left:6px;top:52.2px;line-height:0"><svg width="4" height="7" viewBox="0 0 4 7"><path d="M0.5 0.5h3M2 0.5v6M0.5 6.5h3" stroke="#1a3a9a" stroke-width="1" fill="none"/></svg></div><div class="r" style="left:13px;top:61px">poster_ip : VARCHAR (15)</div><div class="r" style="left:13px;top:71px">enable_html : VARCHAR (25)</div><div class="r" style="left:13px;top:82px">enable_smiles : INTEGER</div><div class="r" style="left:13px;top:92px">post_edit_time : TIMESTAMP</div><div class="r" style="left:13px;top:102px">status : INTEGER</div><div class="r" style="left:13px;top:112px">attach : INTEGER</div></div></div>
<div class="a" style="left:248px;top:530px;width:509px;height:100px;background:#c3d6f8"></div>
<div class="hdr" style="left:251px;top:533px;width:503px;height:19px"></div>
<div class="grip" style="left:256px;top:536px"><i style="top:0"></i><i style="top:4px"></i><i style="top:8px"></i></div>
<div class="t" style="left:265px;top:536px">Object Properties</div>
<svg class="a" style="left:730px;top:538px" width="11" height="10" viewBox="0 0 11 10"><g fill="none" stroke="#000"><path d="M3 0.6H9.6V6" stroke-width="1.2"/><rect x="0.6" y="3.6" width="6" height="5.6" stroke-width="1.2"/></g></svg>
<div class="a" style="left:251px;top:552px;width:503px;height:75px;background:#ece9d8"></div>
<div class="t" style="left:252px;top:555px;letter-spacing:-0.42px">RDBMS: DB2 - LUW 9.5</div>
<div class="t" style="left:252px;top:569px;letter-spacing:0px">Tables: 6</div>
<div class="t" style="left:252px;top:583px;letter-spacing:-0.1px">Views: 0</div>
<div class="t" style="left:252px;top:597px;letter-spacing:-0.12px">Relationships: 6</div>
<div class="a" style="left:761px;top:79px;width:231px;height:356px;background:#c3d6f8"></div>
<div class="hdr" style="left:764px;top:82px;width:224px;height:20px"></div>
<div class="grip" style="left:769px;top:85px"><i style="top:0"></i><i style="top:4px"></i><i style="top:8px"></i></div>
<div class="t" style="left:778px;top:85px">Palette</div>
<svg class="a" style="left:965px;top:87px" width="11" height="10" viewBox="0 0 11 10"><g fill="none" stroke="#000"><path d="M3 0.6H9.6V6" stroke-width="1.2"/><rect x="0.6" y="3.6" width="6" height="5.6" stroke-width="1.2"/></g></svg>
<div class="a" style="left:764px;top:102px;width:224px;height:330px;background:#6b80d8"></div>
<div class="a" style="left:765px;top:101px;width:223px;height:23px;border-radius:4px 4px 0 0;background:linear-gradient(90deg,#fefeff 0,#eef2fd 35%,#c6d3f6 100%);border-bottom:1px solid #e8e4cc"></div>
<div class="a" style="left:774px;top:109px;width:9px;height:9px;border:1px solid #7a8fb5;border-radius:1px;background:linear-gradient(#fff,#e8e6dc 60%,#d0ccb8)"></div><div class="a" style="left:776px;top:113px;width:5px;height:1px;background:#000"></div>
<div class="t" style="left:791px;top:107px;font-weight:bold;color:#215dc6;letter-spacing:0.2px;font-size:11.5px">Entities</div>
<div class="a" style="left:765px;top:124px;width:223px;height:121px;background:#d6dff7;border-right:1px solid #f0ecd8;border-left:1px solid #f0ecd8;border-bottom:1px solid #f0ecd8"></div>
<div class="a" style="left:765px;top:246px;width:223px;height:23px;border-radius:4px 4px 0 0;background:linear-gradient(90deg,#fefeff 0,#eef2fd 35%,#c6d3f6 100%);border-bottom:1px solid #e8e4cc"></div>
<div class="a" style="left:774px;top:254px;width:9px;height:9px;border:1px solid #7a8fb5;border-radius:1px;background:linear-gradient(#fff,#e8e6dc 60%,#d0ccb8)"></div><div class="a" style="left:776px;top:258px;width:5px;height:1px;background:#000"></div>
<div class="t" style="left:791px;top:252px;font-weight:bold;color:#215dc6;letter-spacing:0.2px;font-size:11.5px">Relationships</div>
<div class="a" style="left:765px;top:269px;width:223px;height:91px;background:#d6dff7;border-right:1px solid #f0ecd8;border-left:1px solid #f0ecd8;border-bottom:1px solid #f0ecd8"></div>
<svg class="a" style="left:770px;top:127px" width="30" height="24" viewBox="0 0 30 24">
<rect x="0.5" y="0.5" width="29" height="23" fill="#fffdc8" stroke="#c8c8b0"/><rect x="1" y="1" width="28" height="3" fill="#d0d0d0"/><rect x="6" y="1.3" width="16" height="2.4" fill="#333" opacity="0.85"/><rect x="3" y="1.3" width="2" height="2.4" fill="#e0a000"/>
<g fill="#666" opacity="0.8"><rect x="6" y="6" width="4" height="1"/><rect x="6" y="9" width="10" height="1"/><rect x="6" y="12" width="20" height="1"/><rect x="6" y="15" width="14" height="1"/><rect x="6" y="18" width="10" height="1"/><rect x="6" y="21" width="8" height="1"/></g>
<g fill="#fffdc8"><rect x="8" y="5" width="0.8" height="17"/><rect x="12" y="5" width="0.8" height="17"/><rect x="16" y="5" width="0.8" height="17"/><rect x="20" y="5" width="0.8" height="17"/><rect x="24" y="5" width="0.8" height="17"/></g>
<g fill="#e0a000"><rect x="2" y="5.8" width="3" height="1.5"/><rect x="2" y="11.8" width="3" height="1.5"/></g>
</svg>
<svg class="a" style="left:771px;top:157px" width="28" height="24" viewBox="0 0 28 24">
<rect x="0.5" y="0.5" width="27" height="23" fill="#f2f2fc" stroke="#b0b0b0"/><rect x="1" y="1" width="26" height="3" fill="#c0c0c0"/><rect x="6" y="1.3" width="15" height="2.4" fill="#555" opacity="0.8"/>
<g fill="#999"><rect x="6" y="6" width="8" height="1"/><rect x="6" y="9" width="6" height="1"/><rect x="6" y="12" width="10" height="1"/><rect x="6" y="15" width="10" height="1"/><rect x="6" y="18" width="6" height="1"/><rect x="6" y="21" width="8" height="1"/></g>
<g fill="#f2f2fc"><rect x="8" y="5" width="0.8" height="17"/><rect x="12" y="5" width="0.8" height="17"/><rect x="16" y="5" width="0.8" height="17"/></g>
</svg>
<svg class="a" style="left:771px;top:187px" width="28" height="24" viewBox="0 0 28 24"><rect x="0.5" y="0.5" width="27" height="23" fill="#fff" stroke="#a8a8a8"/><rect x="1" y="1" width="26" height="3.5" fill="#b8b8b8"/><rect x="6" y="1.5" width="15" height="2.4" fill="#555" opacity="0.8"/></svg>
<svg class="a" style="left:771px;top:217px" width="28" height="24" viewBox="0 0 28 24"><rect x="0.75" y="0.75" width="26.5" height="22.5" fill="#f0f0f0" stroke="#999" stroke-width="1.5"/><rect x="2" y="2" width="8" height="1" fill="#888"/></svg>
<div class="t" style="left:805px;top:133px">Table</div>
<div class="t" style="left:805px;top:163px">View</div>
<div class="t" style="left:805px;top:193px">Note</div>
<div class="t" style="left:805px;top:223px">Region</div>
<svg class="a" style="left:770px;top:277px" width="32" height="18" viewBox="0 0 32 18"><path d="M0 1.5H15.5V12.5H30" fill="none" stroke="#7a7a7a"/><path d="M23.5 12.5L30 8.3M23.5 12.5L30 16.7" fill="none" stroke="#7a7a7a"/></svg>
<svg class="a" style="left:770px;top:307px" width="32" height="18" viewBox="0 0 32 18"><path d="M0 1.5H15.5V12.5H30" fill="none" stroke="#7a7a7a" stroke-dasharray="2 1"/><path d="M23.5 12.5L30 8.3M23.5 12.5L30 16.7" fill="none" stroke="#7a7a7a"/></svg>
<svg class="a" style="left:776px;top:336px" width="17" height="13" viewBox="0 0 17 13"><path d="M1 12.5V8A7 7 0 0 1 15 8v4.5z" fill="none" stroke="#777"/><path d="M3.5 3.5l9 9M12.5 3.5l-9 9" stroke="#777"/></svg>
<div class="t" style="left:805px;top:278px">One to Many</div>
<div class="t" style="left:805px;top:308px">One to Many (NI)</div>
<div class="t" style="left:805px;top:338px">Subcategory</div>
<div class="a" style="left:761px;top:439px;width:231px;height:191px;background:#c3d6f8"></div>
<div class="hdr" style="left:764px;top:442px;width:224px;height:19px"></div>
<div class="grip" style="left:769px;top:445px"><i style="top:0"></i><i style="top:4px"></i><i style="top:8px"></i></div>
<div class="t" style="left:778px;top:445px">Overview</div>
<svg class="a" style="left:965px;top:447px" width="11" height="10" viewBox="0 0 11 10"><g fill="none" stroke="#000"><path d="M3 0.6H9.6V6" stroke-width="1.2"/><rect x="0.6" y="3.6" width="6" height="5.6" stroke-width="1.2"/></g></svg>
<div class="a" style="left:763px;top:461px;width:225px;height:166px;background:#fff"></div>
<div class="a" style="left:764px;top:461px;width:501px;height:419px;transform:scale(0.396);transform-origin:0 0"><div class="a" style="left:34px;top:23px;width:429px;height:340px;background:#f3f3f3;border:1px solid #c4c4c4"></div><svg class="a" style="left:0;top:0" width="501" height="419" viewBox="252 103 501 419"><path d="M388 192.5 L412.5 192.5 L412.5 215.5 L440 215.5" fill="none" stroke="#4a4a4a" stroke-width="1" stroke-dasharray="3 3"/><path d="M507.5 174 L507.5 156.5 L596 156.5" fill="none" stroke="#4a4a4a" stroke-width="1" stroke-dasharray="3 3"/><path d="M548 263.5 L567.5 263.5 L567.5 287.5 L584 287.5" fill="none" stroke="#4a4a4a" stroke-width="1" stroke-dasharray="3 3"/><path d="M440 269.5 L406.5 269.5 L406.5 299" fill="none" stroke="#4a4a4a" stroke-width="1" stroke-dasharray="3 3"/><path d="M495.5 282 L495.5 305.5 L478.5 305.5 L478.5 328" fill="none" stroke="#4a4a4a" stroke-width="1" stroke-dasharray="3 3"/><path d="M633.5 412 L633.5 435.5 L555 435.5" fill="none" stroke="#4a4a4a" stroke-width="1" stroke-dasharray="3 3"/><g stroke="#333" stroke-width="1" fill="none"><path d="M391.5 189.5v6"/><path d="M437.5 212.5v6M435 213.5q2 2 0 4"/><path d="M504.5 177.5h6"/><circle cx="591" cy="156.5" r="2.5"/><path d="M594 154q2 2.5 0 5M596 153.5l-2 3 2 3"/><path d="M551.5 260.5v6"/><circle cx="579.5" cy="287.5" r="2.5"/><path d="M582 285q2 2.5 0 5"/><path d="M437.5 266.5v6"/><circle cx="406.5" cy="294" r="2.5"/><path d="M404 296.5l2.5 2.5 2.5-2.5"/><path d="M492.5 285.5h6"/><circle cx="478.5" cy="323.5" r="2.5"/><path d="M476 326l2.5 2.5 2.5-2.5"/><path d="M630.5 415.5h6"/><path d="M558.5 432.5v6M556 433l2 2.5-2 2.5"/></g></svg><div class="lbl" style="left:35px;top:24.80000000000001px;color:#333;letter-spacing:0.15px">Forum</div><div class="lbl" style="left:83px;top:104.5px;color:#1f961f;letter-spacing:0.05px">FK_Categories_Forums</div><div class="lbl" style="left:251px;top:38.0px;color:#1f961f;letter-spacing:0.15px">FK_Forums_Watch</div><div class="lbl" style="left:306px;top:140.9px;color:#1f961f;letter-spacing:0.15px">FK_Forums_Topics</div><div class="lbl" style="left:46px;top:170.2px;color:#1f961f;letter-spacing:0.18px">FK_Forums_Mail_Integration</div><div class="lbl" style="left:172px;top:191.89999999999998px;color:#1f961f;letter-spacing:0.15px">FK_Forusms_Post</div><div class="lbl" style="left:324px;top:339.5px;color:#1f961f;letter-spacing:0.03px">FK_Topics_Post</div><div class="tb" style="left:40px;top:35px;width:96px;height:61px"><div class="h" style="height:11px;line-height:10px">jForum_categories</div><div class="r" style="left:13px;top:11px">categories_id : INTEGER</div><div class="a" style="left:1px;top:12.0px;line-height:0"><svg width="10" height="6" viewBox="0 0 10 6"><circle cx="2" cy="3" r="1.8" fill="#f0c020"/><path d="M3.5 3H9.5M7 3v2M8.5 3v2" stroke="#c89000" stroke-width="1"/></svg></div><div class="r" style="left:13px;top:21px">title : VARCHAR (100)</div><div class="r" style="left:13px;top:31px">display_order : INTEGER</div><div class="a" style="left:6px;top:32.2px;line-height:0"><svg width="4" height="7" viewBox="0 0 4 7"><path d="M0.5 0.5h3M2 0.5v6M0.5 6.5h3" stroke="#1a3a9a" stroke-width="1" fill="none"/></svg></div><div class="r" style="left:13px;top:41px">moderated : INTEGER</div></div><div class="tb" style="left:188px;top:71px;width:108px;height:108px"><div class="h" style="height:10px;line-height:9px">jForum_forums</div><div class="r" style="left:13px;top:10px">forum_id : INTEGER</div><div class="a" style="left:1px;top:10.1px;line-height:0"><svg width="10" height="8" viewBox="0 0 10 8"><circle cx="2.5" cy="5" r="2" fill="#f0c020"/><path d="M4.5 5H9" stroke="#c89000" stroke-width="1"/><path d="M5.5 0.5h2.5M7 0.5v7M5.5 7.5H8" stroke="#1a3a9a" stroke-width="1"/></svg></div><div class="r" style="left:13px;top:20px">categories : INTEGE<span style="position:relative">R<i style="position:absolute;right:1.2px;top:2px;width:1.6px;height:1.6px;background:#c040c0"></i></span></div><div class="a" style="left:6px;top:21.2px;line-height:0"><svg width="4" height="7" viewBox="0 0 4 7"><path d="M0.5 0.5h3M2 0.5v6M0.5 6.5h3" stroke="#1a3a9a" stroke-width="1" fill="none"/></svg></div><div class="r" style="left:13px;top:30px">forum_name : VARCHAR (150)</div><div class="r" style="left:13px;top:40px">forum_desc : VARCHAR (255)</div><div class="r" style="left:13px;top:50px">forum_order : INTEGER</div><div class="r" style="left:13px;top:61px">forum_topics : INTEGER</div><div class="r" style="left:13px;top:71px">forum_last_post_id : INTEGER</div><div class="r" style="left:13px;top:81px">moderated : INTEGER</div></div><div class="tb" style="left:344px;top:35px;width:96px;height:36px"><div class="h" style="height:10px;line-height:9px">jForum_forums_watch</div><div class="r" style="left:12px;top:10px">forum_id : INTEGE<span style="position:relative">R<i style="position:absolute;right:1.2px;top:2px;width:1.6px;height:1.6px;background:#c040c0"></i></span></div><div class="r" style="left:12px;top:20px">user_id : INTEGE<span style="position:relative">R<i style="position:absolute;right:1.2px;top:2px;width:1.6px;height:1.6px;background:#c040c0"></i></span></div></div><div class="tb" style="left:332px;top:171px;width:114px;height:138px"><div class="h" style="height:11px;line-height:10px">jForum_topics</div><div class="r" style="left:12px;top:11px">topic_id : INTEGE<span style="position:relative">R<i style="position:absolute;right:1.2px;top:2px;width:1.6px;height:1.6px;background:#c040c0"></i></span></div><div class="a" style="left:1px;top:12.1px;line-height:0"><svg width="10" height="6" viewBox="0 0 10 6"><circle cx="2" cy="3" r="1.8" fill="#f0c020"/><path d="M3.5 3H9.5M7 3v2M8.5 3v2" stroke="#c89000" stroke-width="1"/></svg></div><div class="r" style="left:12px;top:21px">forum_id : INTEGE<span style="position:relative">R<i style="position:absolute;right:1.2px;top:2px;width:1.6px;height:1.6px;background:#c040c0"></i></span></div><div class="a" style="left:5px;top:22.2px;line-height:0"><svg width="4" height="7" viewBox="0 0 4 7"><path d="M0.5 0.5h3M2 0.5v6M0.5 6.5h3" stroke="#1a3a9a" stroke-width="1" fill="none"/></svg></div><div class="r" style="left:12px;top:31px">topic_title : VARCHAR (100)</div><div class="r" style="left:12px;top:41px">user_id : INTEGER</div><div class="r" style="left:12px;top:52px">topic_time : TIMESTAMP</div><div class="r" style="left:12px;top:62px">topic_views : INTEGER</div><div class="r" style="left:12px;top:72px">topic_status : INTEGER</div><div class="r" style="left:12px;top:82px">topic_vote_id : INTEGER</div><div class="r" style="left:12px;top:92px">topic_type : INTEGER</div><div class="r" style="left:12px;top:102px">topic_first_post_id : INTEGER</div><div class="r" style="left:12px;top:112px">topic_last_post_id : INTEGER</div><div class="r" style="left:12px;top:122px">moderated : INTEGER</div></div><div class="tb" style="left:41px;top:196px;width:120px;height:90px"><div class="h" style="height:10px;line-height:9px">jForum_mail_integration</div><div class="r" style="left:12px;top:10px">forum_id : INTEGE<span style="position:relative">R<i style="position:absolute;right:1.2px;top:2px;width:1.6px;height:1.6px;background:#c040c0"></i></span></div><div class="a" style="left:5px;top:11.0px;line-height:0"><svg width="4" height="7" viewBox="0 0 4 7"><path d="M0.5 0.5h3M2 0.5v6M0.5 6.5h3" stroke="#1a3a9a" stroke-width="1" fill="none"/></svg></div><div class="r" style="left:12px;top:20px">forum_email : VARCHAR (100)</div><div class="r" style="left:12px;top:30px">pop_username : VARCHAR (100)</div><div class="r" style="left:12px;top:40px">pop_password : VARCHAR (100)</div><div class="r" style="left:12px;top:50px">pop_host : VARCHAR (100)</div><div class="r" style="left:12px;top:60px">pop_port : INTEGER</div><div class="r" style="left:12px;top:71px">pop_ssl : INTEGER</div></div><div class="tb" style="left:189px;top:225px;width:114px;height:126px"><div class="h" style="height:11px;line-height:10px">jForum_posts</div><div class="r" style="left:13px;top:11px">post_id : INTEGE<span style="position:relative">R<i style="position:absolute;right:1.2px;top:2px;width:1.6px;height:1.6px;background:#c040c0"></i></span></div><div class="a" style="left:1px;top:11.8px;line-height:0"><svg width="10" height="6" viewBox="0 0 10 6"><circle cx="2" cy="3" r="1.8" fill="#f0c020"/><path d="M3.5 3H9.5M7 3v2M8.5 3v2" stroke="#c89000" stroke-width="1"/></svg></div><div class="r" style="left:13px;top:21px">topic_id : INTEGE<span style="position:relative">R<i style="position:absolute;right:1.2px;top:2px;width:1.6px;height:1.6px;background:#c040c0"></i></span></div><div class="a" style="left:6px;top:21.9px;line-height:0"><svg width="4" height="7" viewBox="0 0 4 7"><path d="M0.5 0.5h3M2 0.5v6M0.5 6.5h3" stroke="#1a3a9a" stroke-width="1" fill="none"/></svg></div><div class="r" style="left:13px;top:31px">forum_id : INTEGE<span style="position:relative">R<i style="position:absolute;right:1.2px;top:2px;width:1.6px;height:1.6px;background:#c040c0"></i></span></div><div class="a" style="left:6px;top:32.0px;line-height:0"><svg width="4" height="7" viewBox="0 0 4 7"><path d="M0.5 0.5h3M2 0.5v6M0.5 6.5h3" stroke="#1a3a9a" stroke-width="1" fill="none"/></svg></div><div class="r" style="left:13px;top:41px">user_id : INTEGER</div><div class="r" style="left:13px;top:51px">post_time : DAT<span style="position:relative">E<i style="position:absolute;right:1.2px;top:2px;width:1.6px;height:1.6px;background:#c040c0"></i></span></div><div class="a" style="left:6px;top:52.2px;line-height:0"><svg width="4" height="7" viewBox="0 0 4 7"><path d="M0.5 0.5h3M2 0.5v6M0.5 6.5h3" stroke="#1a3a9a" stroke-width="1" fill="none"/></svg></div><div class="r" style="left:13px;top:61px">poster_ip : VARCHAR (15)</div><div class="r" style="left:13px;top:71px">enable_html : VARCHAR (25)</div><div class="r" style="left:13px;top:82px">enable_smiles : INTEGER</div><div class="r" style="left:13px;top:92px">post_edit_time : TIMESTAMP</div><div class="r" style="left:13px;top:102px">status : INTEGER</div><div class="r" style="left:13px;top:112px">attach : INTEGER</div></div></div>
<div class="a" style="left:764px;top:461px;width:199px;height:166px;border:1px solid #ee1c1c"></div>
<div class="a" style="left:960px;top:623px;width:4px;height:4px;background:#ee1c1c"></div>
<svg class="a" style="left:130px;top:410px" width="180" height="120" viewBox="130 410 180 120">
<defs>
<filter id="bl" x="-30%" y="-30%" width="160%" height="160%"><feGaussianBlur stdDeviation="4"/></filter>
<filter id="sh" x="-30%" y="-30%" width="160%" height="160%"><feGaussianBlur stdDeviation="1.8"/></filter>
<clipPath id="cp"><path d="M148.5 442.5H236L299 422.5L258 443.5H276.5Q283.5 443.5 283.5 450.5V507.5Q283.5 514.5 276.5 514.5H148.5Q141.5 514.5 141.5 507.5V449.5Q141.5 442.5 148.5 442.5Z"/></clipPath>
</defs>
<path d="M148.5 442.5H236L299 422.5L258 443.5H276.5Q283.5 443.5 283.5 450.5V507.5Q283.5 514.5 276.5 514.5H148.5Q141.5 514.5 141.5 507.5V449.5Q141.5 442.5 148.5 442.5Z" transform="translate(3,3)" fill="#000" opacity="0.5" filter="url(#sh)"/>
<path d="M148.5 442.5H236L299 422.5L258 443.5H276.5Q283.5 443.5 283.5 450.5V507.5Q283.5 514.5 276.5 514.5H148.5Q141.5 514.5 141.5 507.5V449.5Q141.5 442.5 148.5 442.5Z" fill="#6cb4fa"/>
<rect x="147" y="448" width="131" height="61" fill="#fff" filter="url(#bl)" clip-path="url(#cp)"/>
<path d="M148.5 442.5H236L299 422.5L258 443.5H276.5Q283.5 443.5 283.5 450.5V507.5Q283.5 514.5 276.5 514.5H148.5Q141.5 514.5 141.5 507.5V449.5Q141.5 442.5 148.5 442.5Z" fill="none" stroke="#1a7cf8" stroke-width="1.8"/>
</svg>
<div class="t" style="left:141.475px;width:141px;text-align:center;top:455.3px;font-size:13px;font-weight:bold;line-height:16px;letter-spacing:0.95px;word-spacing:1px;-webkit-text-stroke:0.35px #000">Completed ER</div>
<div class="t" style="left:141.5px;width:141px;text-align:center;top:470.5px;font-size:13px;font-weight:bold;line-height:16px;letter-spacing:1.0px;word-spacing:3px;-webkit-text-stroke:0.35px #000">Model with</div>
<div class="t" style="left:141.6px;width:141px;text-align:center;top:487.6px;font-size:13px;font-weight:bold;line-height:16px;letter-spacing:1.2px;word-spacing:0px;-webkit-text-stroke:0.35px #000">Region</div>
<div class="a" style="left:4px;top:631px;width:988px;height:14px;background:linear-gradient(#ece9d8 0,#ece9d8 12px,#fbf6e4 13px)"></div>
<div class="t" style="left:8px;top:631px;letter-spacing:-0.1px">Selected Objects: 0</div>
</body></html>
